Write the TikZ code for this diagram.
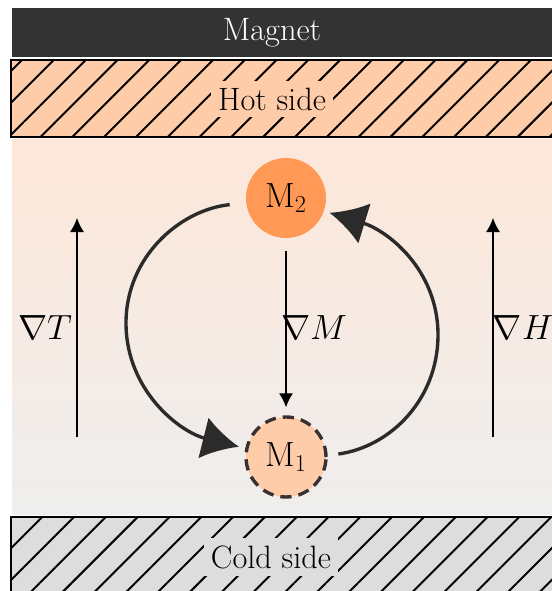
\documentclass[tikz,border=0pt]{standalone}
\usepackage{amsmath,amssymb}
\usepackage{xcolor}
\usepackage{tikz}
\usetikzlibrary{arrows.meta, patterns.meta}

\definecolor{magnetgray}{HTML}{333333}
\definecolor{hotfill}{HTML}{FFCCAA}
\definecolor{coldfill}{HTML}{DDDDDD}
\definecolor{mtwofill}{HTML}{FF9955}
\definecolor{warmtop}{HTML}{FDE7D9}
\definecolor{coolbottom}{HTML}{EEEEEE}
\definecolor{cycleline}{HTML}{2B2B2B}
\definecolor{dashline}{HTML}{3A3030}

\begin{document}
\begin{tikzpicture}[
    >=Latex,
    line width=1pt,
    font=\fontsize{23}{27}\selectfont,
    plate/.style={draw=black, line width=1.4pt},
    hatch/.style={pattern={Lines[angle=45, distance=16pt, line width=1.4pt]}},
    platelabel/.style={inner sep=5pt},
    magnetball/.style={circle, minimum size=2cm, inner sep=0pt},
    cyclearrow/.style={draw=cycleline, line width=2.4pt, -{Latex[length=26pt, width=30pt]}},
    gradarrow/.style={line width=0.9pt, -{Latex[length=10pt, width=10pt]}}
]

\useasboundingbox (0,0) rectangle (13.8,14.775);

% =========================================================
% BACKGROUND: gradient between the plates
% =========================================================
\shade[top color=warmtop, bottom color=coolbottom] (0.3,1.9) rectangle (14.5,11.275);

% =========================================================
% TOP: magnet and hot side
% =========================================================
\fill[magnetgray] (0.3,13.35) rectangle (14.5,14.575);
\node[text=white] (magnet) at (6.8,13.95) {Magnet};

\fill[hotfill] (0.275,11.35) rectangle (14.5,13.275);
\fill[hatch] (0.275,11.35) rectangle (14.5,13.275);
\draw[plate] (0.275,11.35) rectangle (14.5,13.275);
\node[platelabel, fill=hotfill] (hot) at (6.8,12.3) {Hot side};

% =========================================================
% BOTTOM: cold side
% =========================================================
\fill[coldfill] (0.275,-0.5) rectangle (14.5,1.85);
\fill[hatch] (0.275,-0.5) rectangle (14.5,1.85);
\draw[plate] (0.275,-0.5) rectangle (14.5,1.85);
\node[platelabel, fill=coldfill] (cold) at (6.775,0.85) {Cold side};

% =========================================================
% MIDDLE: magnetic states and cycle
% =========================================================
\node[magnetball, fill=mtwofill] (m2) at (7.15,9.825) {$\mathrm{M}_2$};
\node[magnetball, fill=hotfill, draw=dashline, line width=2.4pt,
      dash pattern=on 8pt off 5pt] (m1) at (7.15,3.35) {$\mathrm{M}_1$};

% cycle
\coordinate (lwest) at (3.15,6.7);
\coordinate (reast) at (10.95,6.4);
\draw[cyclearrow, shorten <=0.4cm, shorten >=0.16cm]
    (m2.187) to[out=186, in=90] (lwest) to[out=-90, in=166] (m1.168);
\draw[cyclearrow, shorten <=0.27cm, shorten >=0.13cm]
    (m1.2) to[out=8, in=-90] (reast) to[out=90, in=-17] (m2.341);

% magnetisation gradient
\draw[gradarrow, shorten <=0.3cm, shorten >=0.2cm] (m2) -- (m1);
\node (gradm) at (7.85,6.575) {$\nabla M$};

% =========================================================
% SIDES: temperature and field gradients
% =========================================================
\coordinate (tbot) at (1.925,3.85);
\coordinate (ttop) at (1.925,9.325);
\draw[gradarrow] (tbot) -- (ttop);
\node (gradt) at (1.125,6.575) {$\nabla T$};

\coordinate (hbot) at (12.325,3.85);
\coordinate (htop) at (12.325,9.325);
\draw[gradarrow] (hbot) -- (htop);
\node (gradh) at (13.075,6.575) {$\nabla H$};

\end{tikzpicture}
\end{document}
